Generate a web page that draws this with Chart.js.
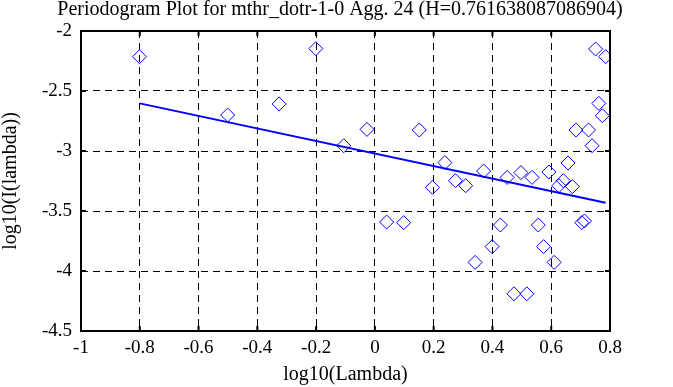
<!DOCTYPE html>
<html>
<head>
<meta charset="utf-8">
<script src="https://cdn.jsdelivr.net/npm/chart.js@4.4.0/dist/chart.umd.min.js"></script>
<style>
  html, body { margin: 0; padding: 0; background: #fff; }
  #wrap { width: 673px; height: 387px; }
</style>
</head>
<body>
<div id="wrap"><canvas id="c"></canvas></div>
<script>
// periodogram points, log10(lambda) vs log10(I(lambda))
var lambdaX = [-0.801, -0.501, -0.326, -0.201, -0.106, -0.027, 0.040, 0.098, 0.151, 0.196,
               0.238, 0.274, 0.309, 0.341, 0.370, 0.399, 0.427, 0.450, 0.473, 0.497,
               0.517, 0.535, 0.556, 0.574, 0.592, 0.610, 0.626, 0.641, 0.657, 0.672,
               0.684, 0.704, 0.713, 0.727, 0.739, 0.751, 0.762, 0.774, 0.785];
var periodY = [-2.214, -2.700, -2.608, -2.147, -2.956, -2.820, -3.592, -3.597, -2.825, -3.303,
               -3.097, -3.247, -3.289, -3.928, -3.167, -3.797, -3.617, -3.220, -4.190, -3.180,
               -4.190, -3.220, -3.617, -3.797, -3.175, -3.928, -3.289, -3.247, -3.100, -3.297,
               -2.825, -3.597, -3.583, -2.825, -2.956, -2.150, -2.603, -2.706, -2.214];

// least squares fit line (slope = 1 - 2H)
var fitX = [-0.8, 0.785];
var fitY = [-2.603, -3.432];

var xTicks = [-1, -0.8, -0.6, -0.4, -0.2, 0, 0.2, 0.4, 0.6, 0.8];
var yTicks = [-2, -2.5, -3, -3.5, -4, -4.5];

var titulo = "Periodogram Plot for mthr_dotr-1-0 Agg. 24 (H=0.761638087086904)";

var SERIF = "'Liberation Serif', 'DejaVu Serif', serif";

function fmt(v) { return String(Math.round(v * 10) / 10); }

// moldura preta + marcas de tick para dentro, nos 4 lados
var frameBox = {
  id: "frameBox",
  afterDatasetsDraw: function(chart) {
    var ctx = chart.ctx, a = chart.chartArea;
    var sx = chart.scales.x, sy = chart.scales.y;
    var tl = 5;
    ctx.save();
    ctx.strokeStyle = "#000";
    ctx.lineWidth = 2;
    ctx.beginPath();
    xTicks.forEach(function(v) {
      var px = sx.getPixelForValue(v);
      ctx.moveTo(px, a.top);    ctx.lineTo(px, a.top + tl);
      ctx.moveTo(px, a.bottom); ctx.lineTo(px, a.bottom - tl);
    });
    yTicks.forEach(function(v) {
      var py = sy.getPixelForValue(v);
      ctx.moveTo(a.left, py);  ctx.lineTo(a.left + tl, py);
      ctx.moveTo(a.right, py); ctx.lineTo(a.right - tl, py);
    });
    ctx.stroke();
    ctx.strokeRect(a.left, a.top, a.right - a.left, a.bottom - a.top);
    ctx.restore();
  }
};

var pontos = lambdaX.map(function(x, i) { return { x: x, y: periodY[i] }; });
var linha  = fitX.map(function(x, i) { return { x: x, y: fitY[i] }; });

new Chart(document.getElementById("c"), {
  type: "scatter",
  data: {
    datasets: [
      {
        label: "periodogram",
        data: pontos,
        pointStyle: "rectRot",
        pointRadius: 7,
        pointHoverRadius: 7,
        borderColor: "#0000ff",
        backgroundColor: "rgba(0,0,0,0)",
        borderWidth: 1,
        showLine: false
      },
      {
        label: "fit",
        data: linha,
        showLine: true,
        borderColor: "#0000ff",
        borderWidth: 2,
        pointRadius: 0,
        tension: 0
      }
    ]
  },
  options: {
    responsive: true, maintainAspectRatio: false,
    animation: false,
    events: [],
    layout: { padding: { top: 0, right: 0, bottom: 0, left: 7 } },
    plugins: {
      legend: { display: false },
      tooltip: { enabled: false },
      title: {
        display: true, text: titulo, color: "#000",
        font: { family: SERIF, size: 20, weight: "normal", lineHeight: 1.0 },
        padding: { top: 0, bottom: 11 }
      }
    },
    scales: {
      x: {
        type: "linear", min: -1, max: 0.8,
        afterBuildTicks: function(s) { s.ticks = xTicks.map(function(v) { return { value: v }; }); },
        afterFit: function(s) { s.height = 56; },
        grid: { color: "#000", lineWidth: 1, drawTicks: false },
        border: { display: false, dash: [7, 5] },
        ticks: {
          color: "#000", padding: 6, maxRotation: 0, autoSkip: false,
          font: { family: SERIF, size: 19 },
          callback: function(v) { return fmt(v); }
        },
        title: {
          display: true, text: "log10(Lambda)", color: "#000",
          font: { family: SERIF, size: 20 },
          padding: { top: 0, bottom: 0 }
        }
      },
      y: {
        type: "linear", min: -4.5, max: -2,
        afterBuildTicks: function(s) { s.ticks = yTicks.map(function(v) { return { value: v }; }); },
        afterFit: function(s) { s.width = 74; },
        grid: { color: "#000", lineWidth: 1, drawTicks: false },
        border: { display: false, dash: [7, 5] },
        ticks: {
          color: "#000", padding: 9, autoSkip: false,
          font: { family: SERIF, size: 19 },
          callback: function(v) { return fmt(v); }
        },
        title: {
          display: true, text: "log10(I(lambda))", color: "#000",
          font: { family: SERIF, size: 20 },
          padding: { top: -8, bottom: 0 }
        }
      },
      // eixo vazio a direita so para reservar a margem
      yPad: {
        type: "linear", position: "right", display: true,
        afterFit: function(s) { s.width = 63; },
        grid: { display: false },
        border: { display: false },
        ticks: { display: false }
      }
    }
  },
  plugins: [frameBox]
});
</script>
</body>
</html>
